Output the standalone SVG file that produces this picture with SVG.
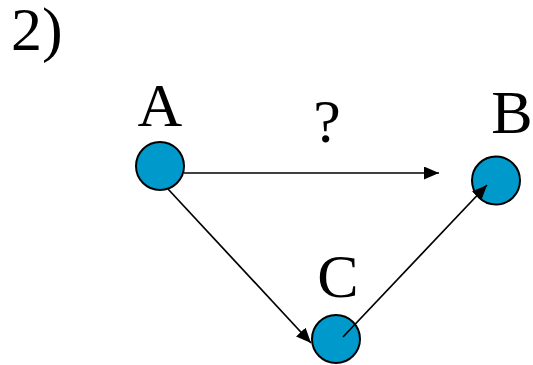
<svg xmlns="http://www.w3.org/2000/svg" width="533" height="365" viewBox="0 0 533 365">
<style>
.node{fill:#0099cc;stroke:#000;stroke-width:2}
.lbl{font-family:"Liberation Serif",serif;font-size:62px;fill:#000;text-anchor:middle}
.edge{stroke:#000;stroke-width:1.7;fill:none;marker-end:url(#ah)}
</style>
<defs>
<marker id="ah" markerUnits="userSpaceOnUse" markerWidth="16" markerHeight="14" refX="15" refY="6.5" orient="auto">
<path d="M0,0 L15,6.5 L0,13 Z" fill="#000"/>
</marker>
</defs>
<text x="11" y="50" font-family="Liberation Serif, serif" font-size="62" fill="#000">2)</text>
<g id="node-A"><circle class="node" cx="160" cy="166" r="24"/><text class="lbl" x="160" y="126">A</text></g>
<g id="node-B"><circle class="node" cx="496" cy="180.5" r="24"/><text class="lbl" x="512" y="133">B</text></g>
<g id="node-C"><circle class="node" cx="336" cy="339" r="24"/><text class="lbl" x="338" y="297">C</text></g>
<g id="connectors">
<path class="edge" d="M184,173 L439,173"/>
<path class="edge" d="M168,189 L311,343"/>
<path class="edge" d="M343,337 L487,185"/>
</g>
<text x="327" y="142" font-family="Liberation Serif, serif" font-size="62" text-anchor="middle" fill="#000">?</text>
</svg>
